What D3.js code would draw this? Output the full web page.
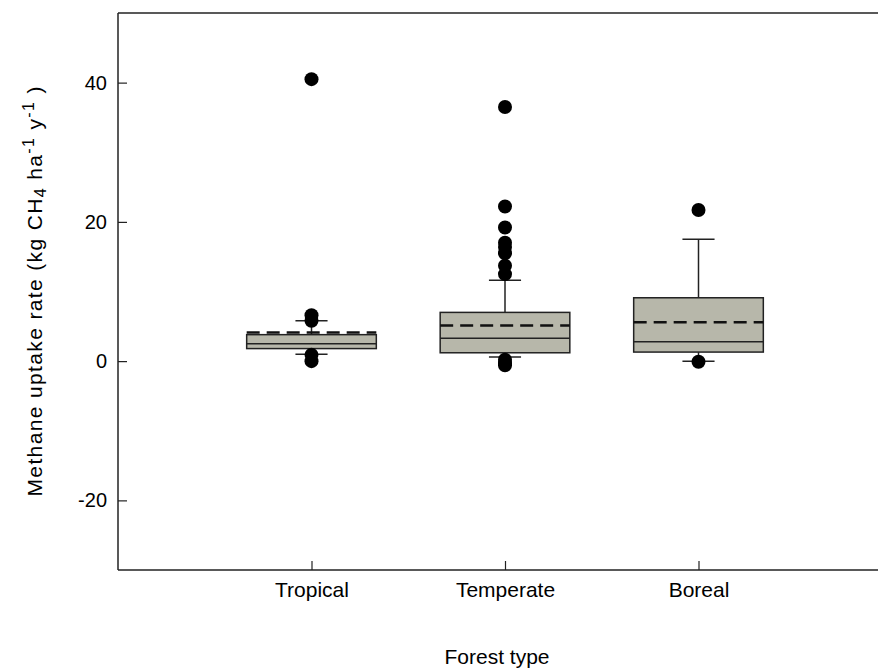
<!DOCTYPE html>
<html>
<head>
<meta charset="utf-8">
<script src="https://cdn.jsdelivr.net/npm/d3@7"></script>
<style>
  body { margin: 0; background: #fff; }
  text { font-family: "Liberation Sans", Arial, sans-serif; fill: #000; }
</style>
</head>
<body>
<div id="chart"></div>
<script>
// box plot data
var categories = ["Tropical", "Temperate", "Boreal"];
var q1 = [1.8, 1.2, 1.3];
var median = [2.5, 3.3, 2.8];
var q3 = [3.8, 7.0, 9.1];
var mean = [4.1, 5.1, 5.6];
var whiskerLow = [1.0, 0.6, 0.0];
var whiskerHigh = [5.8, 11.6, 17.5];
var outliers = [
  [40.5, 6.6, 5.8, 0.9, 0.0],
  [36.5, 22.2, 19.2, 17.0, 16.4, 15.5, 13.7, 12.5, 0.2, -0.3, -0.6],
  [21.7, -0.1]
];
var yTicks = [-20, 0, 20, 40];

var width = 878
var height = 672
// plot edges (the right edge runs past the page)
var pLeft = 118, pRight = 892, pTop = 13, pBottom = 570

var svg = d3.select("#chart")
  .append("svg")
    .attr("width", width)
    .attr("height", height)

// slots 0..4, categories sit on 1,2,3
var x = d3.scaleLinear().domain([0, 4]).range([pLeft, pRight]);
var y = d3.scaleLinear().domain([-30, 50]).range([pBottom, pTop]);

var boxW = x(0.67) - x(0)
var capW = x(0.083) - x(0)

// frame: left, top and bottom lines
var frame = svg.append("g").attr("stroke", "#222").attr("stroke-width", 1.5).attr("fill", "none")
frame.append("line").attr("x1", pLeft).attr("x2", pLeft).attr("y1", pTop).attr("y2", pBottom)
frame.append("line").attr("x1", pLeft).attr("x2", pRight).attr("y1", pTop).attr("y2", pTop)
frame.append("line").attr("x1", pLeft).attr("x2", pRight).attr("y1", pBottom).attr("y2", pBottom)

// y axis, ticks pointing inward, plain hyphen for negatives
var yAxis = svg.append("g")
  .attr("transform", "translate(" + pLeft + ",0)")
  .call(d3.axisRight(y).tickValues(yTicks).tickSize(9).tickFormat(function(d) { return String(d); }))
yAxis.select(".domain").remove()
yAxis.selectAll("line").attr("stroke", "#222").attr("stroke-width", 1.2)
yAxis.selectAll("text")
  .attr("x", -11)
  .attr("text-anchor", "end")
  .style("font-size", "20px")
  .style("font-family", "'Liberation Sans', Arial, sans-serif")

// x axis, ticks pointing up
var xAxis = svg.append("g")
  .attr("transform", "translate(0," + pBottom + ")")
  .call(d3.axisTop(x).tickValues([1, 2, 3]).tickSize(9).tickFormat(function(d) { return categories[d - 1]; }))
xAxis.select(".domain").remove()
xAxis.selectAll("line").attr("stroke", "#222").attr("stroke-width", 1.2)
xAxis.selectAll("text")
  .attr("y", 27)
  .attr("dy", 0)
  .style("font-size", "21px")
  .style("font-family", "'Liberation Sans', Arial, sans-serif")

// boxes
var data = categories.map(function(c, i) {
  return {pos: i + 1, q1: q1[i], med: median[i], q3: q3[i], mean: mean[i],
          lo: whiskerLow[i], hi: whiskerHigh[i], out: outliers[i]};
});

var g = svg.selectAll(".box")
  .data(data)
  .enter()
  .append("g")
  .attr("class", "box")

// whiskers
g.append("line")
  .attr("x1", function(d) { return x(d.pos); })
  .attr("x2", function(d) { return x(d.pos); })
  .attr("y1", function(d) { return y(d.q3); })
  .attr("y2", function(d) { return y(d.hi); })
  .attr("stroke", "#222").attr("stroke-width", 1.5)
g.append("line")
  .attr("x1", function(d) { return x(d.pos); })
  .attr("x2", function(d) { return x(d.pos); })
  .attr("y1", function(d) { return y(d.q1); })
  .attr("y2", function(d) { return y(d.lo); })
  .attr("stroke", "#222").attr("stroke-width", 1.5)
g.append("line")
  .attr("x1", function(d) { return x(d.pos) - capW; })
  .attr("x2", function(d) { return x(d.pos) + capW; })
  .attr("y1", function(d) { return y(d.hi); })
  .attr("y2", function(d) { return y(d.hi); })
  .attr("stroke", "#222").attr("stroke-width", 1.5)
g.append("line")
  .attr("x1", function(d) { return x(d.pos) - capW; })
  .attr("x2", function(d) { return x(d.pos) + capW; })
  .attr("y1", function(d) { return y(d.lo); })
  .attr("y2", function(d) { return y(d.lo); })
  .attr("stroke", "#222").attr("stroke-width", 1.5)

g.append("rect")
  .attr("x", function(d) { return x(d.pos) - boxW / 2; })
  .attr("y", function(d) { return y(d.q3); })
  .attr("width", boxW)
  .attr("height", function(d) { return y(d.q1) - y(d.q3); })
  .attr("fill", "#b7b7aa")
  .attr("stroke", "#222")
  .attr("stroke-width", 1.5)

// median
g.append("line")
  .attr("x1", function(d) { return x(d.pos) - boxW / 2; })
  .attr("x2", function(d) { return x(d.pos) + boxW / 2; })
  .attr("y1", function(d) { return y(d.med); })
  .attr("y2", function(d) { return y(d.med); })
  .attr("stroke", "#222").attr("stroke-width", 1.5)

// mean, dashed
g.append("line")
  .attr("x1", function(d) { return x(d.pos) - boxW / 2; })
  .attr("x2", function(d) { return x(d.pos) + boxW / 2; })
  .attr("y1", function(d) { return y(d.mean); })
  .attr("y2", function(d) { return y(d.mean); })
  .attr("stroke", "#111").attr("stroke-width", 2.5)
  .attr("stroke-dasharray", "13,7")

// outliers
g.selectAll("circle")
  .data(function(d) { return d.out.map(function(v) { return {pos: d.pos, v: v}; }); })
  .enter()
  .append("circle")
  .attr("cx", function(d) { return x(d.pos); })
  .attr("cy", function(d) { return y(d.v); })
  .attr("r", 7)
  .attr("fill", "#000")

// axis titles
svg.append("text")
  .attr("x", 497)
  .attr("y", 664)
  .attr("text-anchor", "middle")
  .style("font-size", "21px")
  .text("Forest type")

var yt = svg.append("text")
  .attr("transform", "translate(42," + ((pTop + pBottom) / 2) + ") rotate(-90)")
  .attr("text-anchor", "middle")
  .attr("textLength", 410)
  .attr("lengthAdjust", "spacing")
  .style("font-size", "21px")
yt.append("tspan").text("Methane uptake rate (kg CH")
yt.append("tspan").attr("baseline-shift", "-25%").style("font-size", "16px").text("4")
yt.append("tspan").text(" ha")
yt.append("tspan").attr("baseline-shift", "50%").style("font-size", "16px").text("-1")
yt.append("tspan").text(" y")
yt.append("tspan").attr("baseline-shift", "50%").style("font-size", "16px").text("-1")
yt.append("tspan").text(" )")
</script>
</body>
</html>
